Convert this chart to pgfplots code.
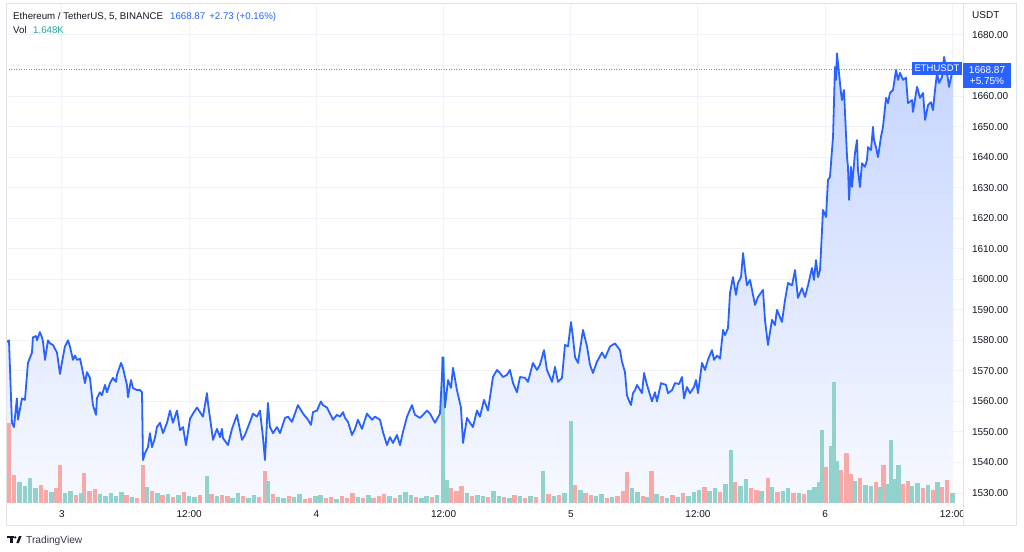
\documentclass[border=0pt]{standalone}
\usepackage{fontspec}
\setmainfont{Liberation Sans}
\usepackage{pgfplots}
\pgfplotsset{compat=1.18}
\usepackage{pgfplotstable}

\definecolor{tvblue}{HTML}{2962FF}
\definecolor{tvtext}{HTML}{131722}
\definecolor{gridc}{HTML}{F0F3FA}
\definecolor{borderc}{HTML}{E0E3EB}
\definecolor{volup}{HTML}{92D2CC}
\definecolor{voldn}{HTML}{F7A9A7}
\definecolor{tvteal}{HTML}{26A69A}
\definecolor{areatop}{HTML}{C6D5FF}
\definecolor{areabot}{HTML}{F7F9FF}

% ETH/USDT close, t in hours from day 3 00:00
\pgfplotstableread{
t p
-5.19 1579.5
-5.00 1580
-4.72 1553
-4.53 1551.6
-4.25 1561
-4.15 1554
-3.77 1561
-3.49 1560.5
-3.21 1572.6
-2.83 1576
-2.74 1581
-2.45 1581.4
-2.36 1580
-2.08 1582.7
-1.89 1581
-1.79 1579.5
-1.60 1573.6
-1.32 1580
-1.13 1579
-0.85 1578.5
-0.47 1576
-0.19 1569
0.09 1574.5
0.28 1578
0.57 1580
0.75 1578
1.04 1573.6
1.23 1575
1.42 1573.6
1.70 1574
1.89 1571
2.17 1566
2.36 1569.6
2.64 1567.7
2.92 1558.8
3.21 1555.6
3.30 1561
3.58 1563
3.77 1562
4.06 1565.4
4.25 1563
4.53 1566
4.81 1567.7
5.09 1566.4
5.19 1568.7
5.57 1572.6
5.75 1571
6.13 1565.4
6.23 1561.4
6.51 1567
6.70 1564.4
7.08 1563.7
7.36 1563.7
7.55 1563
7.64 1540.8
7.83 1543
8.11 1545
8.30 1549.6
8.49 1545
8.77 1548
8.96 1551.6
9.25 1553
9.53 1549.6
9.91 1553
10.19 1557
10.47 1553
10.85 1557
11.13 1550.6
11.42 1551.6
11.70 1545.7
12.08 1554.3
12.36 1556
12.74 1558
13.02 1556.5
13.30 1555
13.68 1562.7
13.77 1559.5
14.25 1547.4
14.62 1551
14.91 1548.3
15.09 1551
15.19 1548
15.66 1545.7
16.04 1551
16.51 1555.6
16.98 1547.4
17.26 1549
17.55 1551.6
18.02 1556
18.40 1555
18.68 1557
18.96 1548.3
19.15 1540.8
19.43 1559.5
19.62 1551.6
19.91 1549.6
20.28 1551.6
20.57 1549.6
21.04 1554.6
21.32 1555
21.70 1553.3
22.26 1558.8
22.74 1556
23.21 1554
23.49 1552.3
23.68 1556.5
24.06 1557
24.43 1560
24.62 1558.8
25.00 1558
25.28 1556
25.57 1554
25.94 1555.6
26.23 1555
26.51 1556.5
26.70 1554.6
26.98 1553.3
27.36 1549
27.64 1551
27.92 1554
28.30 1551
28.77 1556
29.25 1554
29.53 1555
30.00 1554
30.28 1550
30.66 1545.7
30.94 1548.3
31.23 1546.4
31.60 1549
31.89 1545.7
32.17 1550
32.55 1555
33.02 1558.8
33.30 1555.6
33.77 1554.6
34.06 1555.6
34.43 1557
34.72 1556
35.19 1553
35.66 1556
35.94 1574.5
36.13 1558
36.42 1567
36.70 1564.4
36.89 1571
37.26 1563.7
37.64 1558
37.83 1546.4
38.21 1554.6
38.49 1553
38.77 1551.6
39.15 1557
39.43 1555
39.81 1560.5
40.19 1557
40.66 1568
41.04 1570.3
41.32 1569.3
41.60 1568
41.98 1568.7
42.26 1570.3
42.55 1566
42.92 1563
43.21 1568
43.68 1567.7
43.96 1566.4
44.43 1572.6
44.81 1570.3
45.09 1572
45.47 1576.8
45.75 1570.3
46.23 1566.4
46.51 1571.3
46.79 1566.4
47.17 1567.7
47.45 1578.5
47.74 1578
48.02 1586
48.21 1580.8
48.40 1574.5
48.68 1572.6
49.15 1583.4
49.53 1578
49.81 1572
50.09 1569.3
50.47 1573
50.94 1576
51.23 1574.2
51.70 1578
52.17 1579
52.64 1576.8
52.83 1573
53.11 1569.6
53.30 1562
53.40 1561
53.68 1558.8
53.87 1562.7
54.06 1563.7
54.25 1565.4
54.72 1562.7
54.91 1569.3
55.19 1565.4
55.66 1560
55.94 1563
56.13 1560
56.51 1566
56.98 1565.4
57.17 1562.7
57.55 1563.7
57.83 1566
58.21 1565.7
58.49 1568
58.68 1561
58.96 1564.7
59.25 1562.7
59.62 1564.7
59.81 1567
60.00 1562.7
60.38 1572.6
60.66 1570.3
60.94 1573.6
61.32 1576.8
61.51 1573.6
61.79 1575
62.08 1574
62.36 1583.4
62.55 1581.7
62.83 1584
63.02 1595.5
63.30 1600.7
63.58 1594.9
63.77 1598.8
64.06 1600.7
64.25 1608.6
64.43 1603
64.62 1598
64.91 1599.8
65.38 1591.6
65.66 1594.2
66.13 1596.5
66.32 1586.7
66.60 1578.5
66.98 1586.7
67.26 1585
67.45 1590
67.92 1586
68.21 1593.2
68.49 1598.8
68.87 1598
69.15 1603
69.43 1593.9
69.81 1597.1
70.09 1594.2
70.38 1598
70.75 1603.7
70.94 1599.8
71.13 1606.3
71.32 1600.7
71.51 1603
71.70 1616
71.79 1622.7
72.08 1620.4
72.26 1632.5
72.45 1633.5
72.64 1642.3
72.74 1646.6
72.92 1669.5
73.02 1665.3
73.11 1674
73.30 1667.6
73.49 1661
73.58 1658.7
73.77 1662
74.06 1640
74.15 1636.8
74.25 1626
74.43 1636.8
74.53 1630.2
74.81 1641.4
75.00 1645.6
75.09 1635.8
75.28 1630.2
75.47 1638
75.75 1636.8
75.94 1639
76.04 1643.3
76.32 1642.3
76.51 1649.9
76.60 1645.6
76.79 1643.3
76.98 1640
77.26 1646.6
77.45 1649.9
77.74 1659.4
77.92 1657.7
78.11 1661
78.40 1662
78.68 1668.5
78.87 1665.3
79.06 1667.6
79.34 1665.3
79.62 1666
79.81 1657.7
80.19 1658.7
80.28 1654.8
80.66 1663
80.75 1662
80.94 1659.4
81.23 1661
81.42 1652.2
81.70 1657
81.98 1658
82.17 1655.4
82.36 1662
82.55 1667.6
82.74 1664.3
83.02 1666.2
83.21 1672.8
83.49 1667.6
83.68 1663
83.96 1667.6
84.06 1668.87
}\pricetab

% volume in thousands, up=1 green bar, up=0 red bar
\pgfplotstableread{
t v up
-5.0 13.2 0
-4.5 4.6 0
-4.0 3.5 1
-3.5 2.8 1
-3.0 4.2 1
-2.5 2.4 1
-2.0 3.0 0
-1.5 2.2 0
-1.0 1.8 1
-0.5 2.5 0
-0.19 6.3 0
0.3 1.6 1
0.8 2.0 1
1.3 1.4 0
1.8 1.7 1
2.1 5.0 0
2.6 1.9 0
3.1 2.3 0
3.6 1.5 1
4.1 1.2 1
4.6 1.6 1
5.1 1.1 1
5.6 1.8 1
6.1 1.3 0
6.6 1.0 1
7.1 0.9 0
7.64 6.3 0
8.0 2.6 1
8.5 2.0 0
9.0 1.7 1
9.5 1.3 0
10.0 1.5 1
10.5 1.0 0
11.0 1.4 1
11.5 1.8 0
12.0 1.2 1
12.5 1.0 1
13.0 1.3 0
13.68 4.5 1
14.1 1.5 0
14.6 1.1 1
15.1 1.4 0
15.6 1.2 0
16.1 0.9 1
16.6 1.6 1
17.1 1.1 0
17.6 0.8 1
18.1 1.3 1
18.6 1.0 0
19.15 5.3 0
19.43 3.6 1
19.9 1.5 0
20.4 1.0 1
20.9 0.8 1
21.4 1.2 0
21.9 1.0 1
22.4 1.5 1
22.9 0.7 0
23.4 0.9 0
23.9 1.1 1
24.4 1.4 1
24.9 0.8 0
25.4 1.0 0
25.9 0.7 1
26.4 1.2 0
26.9 0.9 0
27.4 1.6 0
27.9 1.0 1
28.4 0.8 0
28.9 1.3 1
29.4 0.9 0
29.9 1.1 0
30.4 1.5 0
30.9 1.2 1
31.4 0.9 0
31.9 1.3 1
32.4 1.8 1
32.9 1.4 1
33.4 1.0 0
33.9 0.9 1
34.4 1.2 1
34.9 1.0 0
35.4 1.3 1
35.94 24.0 1
36.3 3.8 1
36.7 2.4 0
37.2 1.9 0
37.7 2.8 0
38.2 1.6 1
38.7 1.2 0
39.2 1.4 1
39.7 1.1 1
40.2 1.0 0
40.7 1.9 1
41.2 1.2 1
41.7 1.0 0
42.2 0.9 1
42.7 1.3 0
43.2 1.1 1
43.7 0.8 0
44.2 1.2 1
44.7 1.0 0
45.4 5.3 1
45.9 1.5 0
46.4 1.1 1
46.9 1.3 0
47.4 1.7 1
48.02 13.5 1
48.4 3.0 0
48.9 2.2 1
49.4 1.6 0
49.9 1.4 0
50.4 1.2 1
50.9 1.5 1
51.4 0.9 0
51.9 1.0 1
52.4 1.1 0
52.9 2.0 0
53.3 5.1 0
53.8 2.4 1
54.3 1.8 1
54.8 1.2 0
55.2 1.0 1
55.6 5.3 0
56.1 1.5 1
56.6 1.1 0
57.1 0.9 1
57.6 1.3 0
58.1 1.0 1
58.6 1.6 0
59.1 1.2 1
59.6 1.8 1
60.1 2.2 1
60.6 2.6 0
61.1 2.0 1
61.6 2.4 1
62.1 1.8 0
62.6 3.2 1
63.1 8.7 1
63.5 3.5 0
64.0 2.8 1
64.5 4.0 1
65.0 2.5 0
65.5 2.2 0
66.0 1.9 1
66.6 4.1 0
67.0 2.6 1
67.5 1.8 0
68.0 2.0 1
68.5 2.4 1
69.0 1.7 0
69.5 1.6 1
70.0 1.5 0
70.5 2.1 1
71.0 2.6 1
71.4 3.5 1
71.7 12.0 1
72.1 6.0 0
72.6 9.4 1
72.82 20.0 1
73.1 7.0 1
73.5 5.4 0
74.0 8.2 0
74.4 4.8 0
74.8 3.6 1
75.3 4.2 0
75.8 3.0 1
76.3 2.8 1
76.8 3.4 0
77.2 2.6 1
77.5 6.3 0
77.9 3.2 1
78.2 10.4 1
78.6 4.0 1
78.9 6.3 1
79.3 3.1 0
79.8 3.6 0
80.2 2.8 1
80.7 3.3 1
81.2 2.4 0
81.7 3.0 1
82.2 2.2 0
82.6 3.4 1
83.0 2.6 0
83.5 3.8 0
84.0 1.65 1
}\voltab

\pgfplotsset{
  tvpane/.style={
    at={(6pt,-503pt)}, anchor=south west,
    width=957pt, height=499pt, scale only axis,
    xmin=-5.28, xmax=85.0,
  },
}

\begin{document}
\begin{tikzpicture}
\path[use as bounding box] (0,0) rectangle (1024pt,-551pt);
\fill[white] (0,0) rectangle (1024pt,-551pt);

% price pane: grid, area, last price line
\begin{axis}[
  tvpane,
  ymin=1526.73, ymax=1690.15,
  axis line style={draw=none},
  major tick length=0pt,
  xtick={0,12,24,36,48,60,72,84},
  xticklabels={3,12:00,4,12:00,5,12:00,6,12:00},
  ytick={1530,1540,...,1660,1680},
  extra y ticks={1670},
  extra y tick labels={},
  extra y tick style={grid=major, major tick length=0pt},
  yticklabel pos=right,
  yticklabel={\pgfmathprintnumber[fixed,fixed zerofill,precision=2,1000 sep={},assume math mode=true]{\tick}},
  ticklabel style={font=\fontsize{10}{12}\selectfont, text=tvtext},
  yticklabel style={xshift=5.5pt},
  xticklabel style={yshift=-4pt},
  grid=major,
  major grid style={gridc, line width=1pt},
]
\addplot[top color=areatop, bottom color=areabot, draw=none] table[x=t, y=p] {\pricetab} \closedcycle;
\addplot[tvblue!75, line width=0.8pt, dash pattern=on 1pt off 1.5pt] coordinates {(-5.28,1668.87) (85,1668.87)};
\end{axis}

% volume
\begin{axis}[tvpane, hide axis, ymin=0, ymax=82.3]
\addplot[ycomb, voldn, line width=4.4pt, restrict expr to domain={\thisrow{up}}{-0.5:0.5}] table[x=t, y=v] {\voltab};
\addplot[ycomb, volup, line width=4.4pt, restrict expr to domain={\thisrow{up}}{0.5:1.5}] table[x=t, y=v] {\voltab};
\end{axis}

% price line
\begin{axis}[tvpane, hide axis, ymin=1526.73, ymax=1690.15]
\addplot[tvblue, line width=1.8pt, line join=round] table[x=t, y=p] {\pricetab};
\end{axis}

% clip of last time label, frame
\fill[white] (963.5pt,-503.5pt) rectangle (1015.5pt,-524.5pt);
\draw[borderc, line width=1pt] (6pt,-4pt) rectangle (1016pt,-525pt);
\draw[borderc, line width=1pt] (963pt,-4pt) -- (963pt,-525pt);

% price labels
\fill[tvblue] (912pt,-62pt) rectangle (962pt,-74.5pt);
\node[text=white, font=\fontsize{9.5}{11}\selectfont, inner sep=0] at (937pt,-68.3pt) {ETHUSDT};
\fill[tvblue] (963pt,-62.5pt) rectangle (1011pt,-87.5pt);
\node[text=white, font=\fontsize{10}{12}\selectfont, inner sep=0, anchor=base] at (987pt,-73pt) {1668.87};
\node[text=white, font=\fontsize{10}{12}\selectfont, inner sep=0, anchor=base] at (987pt,-84pt) {+5.75\%};

% header
\node[text=tvtext, font=\fontsize{9.7}{12}\selectfont, inner sep=0, anchor=base west] at (13pt,-19.5pt) {Ethereum / TetherUS, 5, BINANCE};
\node[text=tvblue, font=\fontsize{9.7}{12}\selectfont, inner sep=0, anchor=base west] at (170pt,-19.5pt) {1668.87\hspace{4pt}+2.73 (+0.16\%)};
\node[text=tvtext, font=\fontsize{9.7}{12}\selectfont, inner sep=0, anchor=base west] at (13pt,-34pt) {Vol};
\node[text=tvteal, font=\fontsize{9.7}{12}\selectfont, inner sep=0, anchor=base west] at (33pt,-34pt) {1.648K};
\node[text=tvtext, font=\fontsize{10}{12}\selectfont, inner sep=0, anchor=base west] at (972pt,-18.5pt) {USDT};

% TradingView logo
\fill[tvtext] (7pt,-536pt) rectangle (13.5pt,-538.4pt);
\fill[tvtext] (10pt,-536pt) rectangle (12.6pt,-543pt);
\fill[tvtext] (15.2pt,-537.4pt) circle (1.3pt);
\fill[tvtext] (16.3pt,-543pt) -- (19pt,-536pt) -- (21.6pt,-536pt) -- (18.9pt,-543pt) -- cycle;
\node[text=tvtext!85, font=\fontsize{10.2}{12}\selectfont, inner sep=0, anchor=base west] at (26pt,-543.6pt) {TradingView};
\end{tikzpicture}
\end{document}
